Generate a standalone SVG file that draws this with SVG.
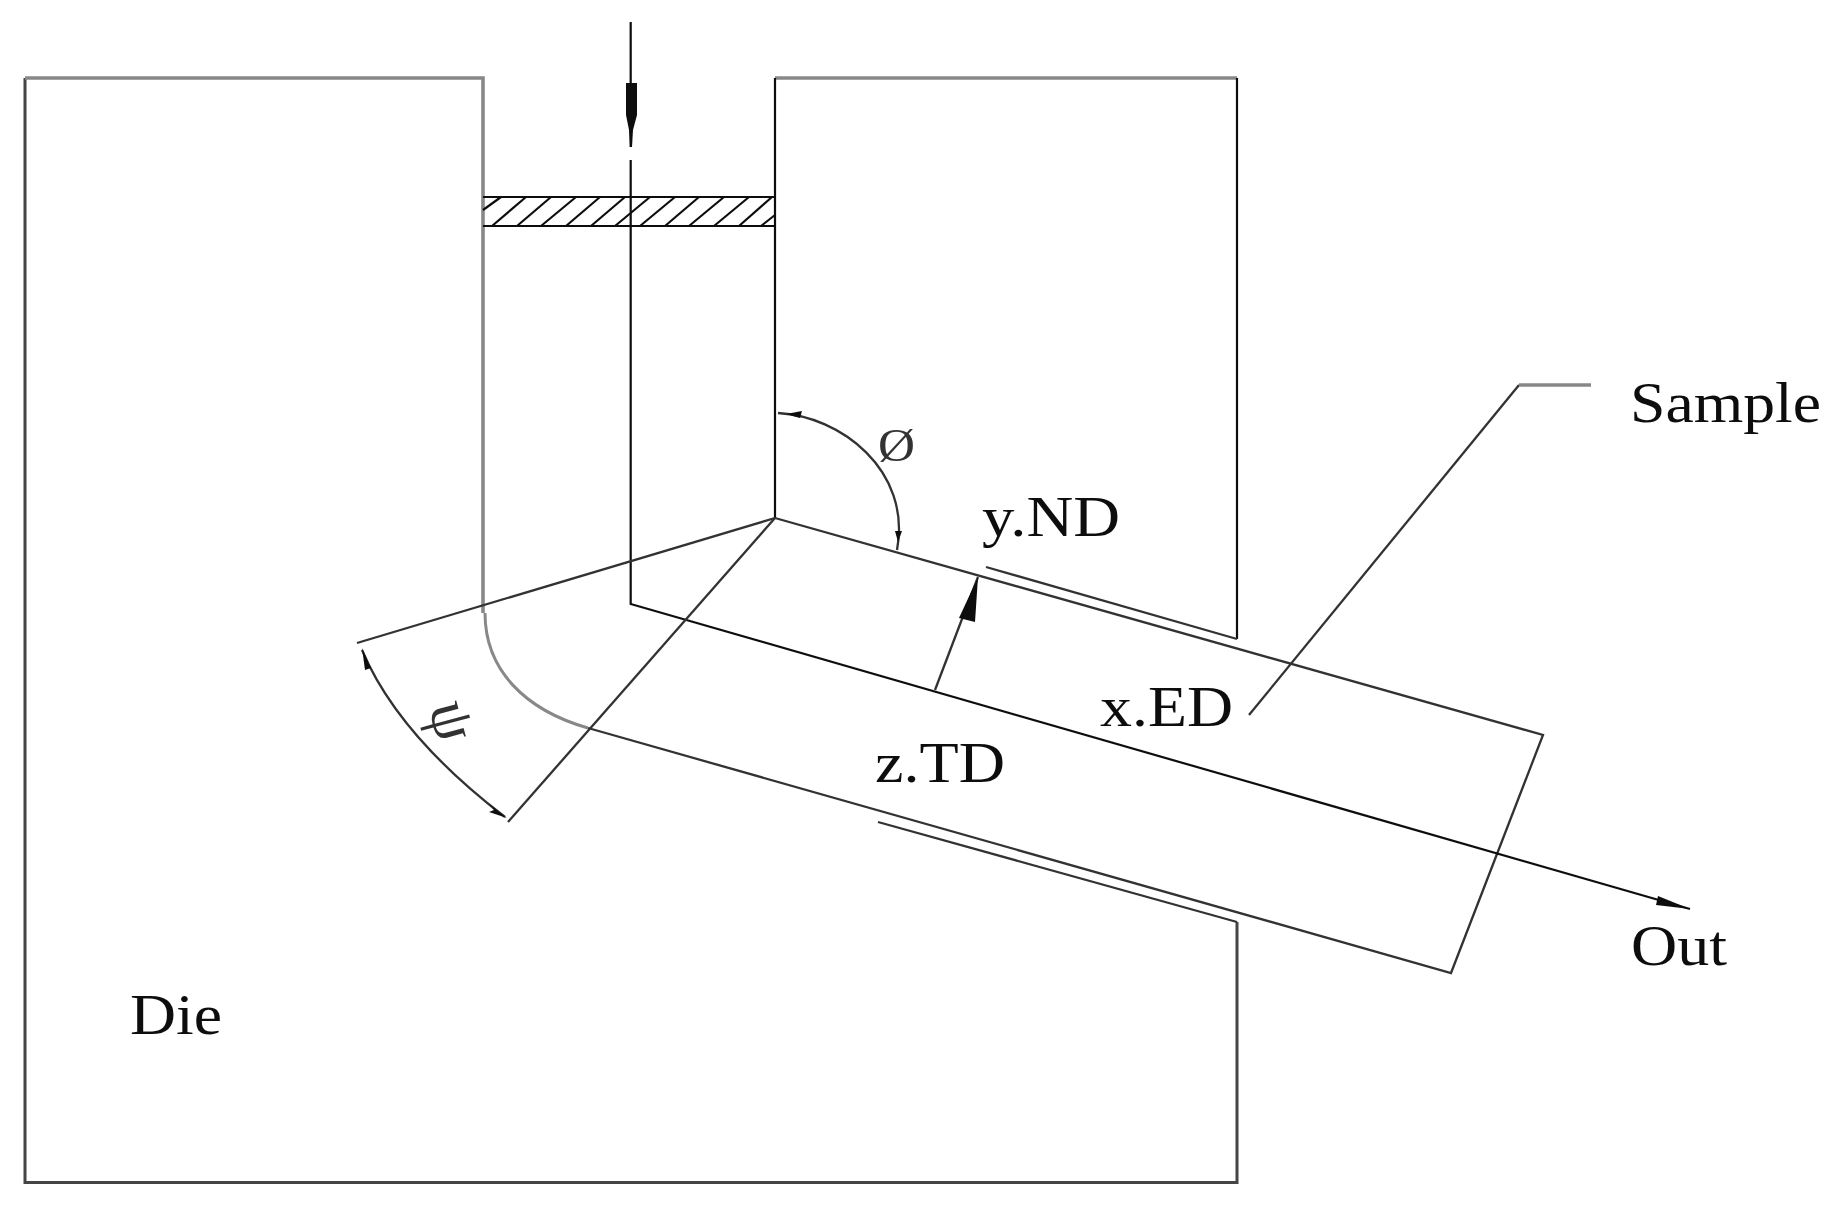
<svg xmlns="http://www.w3.org/2000/svg" width="1843" height="1217" viewBox="0 0 1843 1217">
<style>
.l{fill:none;stroke:#333;stroke-width:2.3}
.g{fill:none;stroke:#888;stroke-width:3.6}
.d{fill:none;stroke:#444;stroke-width:3}
.k{fill:none;stroke:#111;stroke-width:2.2}
.h{fill:none;stroke:#111;stroke-width:2.2}
.t{font-family:"Liberation Serif","Times New Roman",serif;font-size:56px;fill:#111}
.a{fill:#111}
</style>
<defs><filter id="b" x="-5%" y="-5%" width="110%" height="110%"><feGaussianBlur stdDeviation="0.45"/></filter></defs>
<rect width="1843" height="1217" fill="#fff"/>
<g filter="url(#b)">
<g id="die">
<path class="d" d="M25,78V1182.500H1237V922"/>
<path class="g" d="M25,78H483V613"/>
<path class="g" d="M775,78H1237"/>
<path class="k" d="M775,78V518"/>
<path class="k" d="M1237,78V639"/>
<path class="g" style="stroke-width:3" d="M485,613C485,670 525,710 588,728"/>
<path class="l" d="M878,822L1237,922"/>
<path class="l" d="M986,567L1237,639"/>
</g>
<g id="sample">
<path class="l" d="M775,518L1543,735L1451,973L588,728"/>
</g>
<g id="plunger">
<path class="k" d="M483,197H775M483,226H775"/>
<path class="h" d="M483,210L501,197M492,226L526,197M517,226L551,197M541,226L576,197M566,226L600,197M591,226L625,197M615,226L650,197M640,226L675,197M665,226L699,197M689,226L724,197M714,226L749,197M739,226L772,197M761,226L775,215"/>
</g>
<g id="connectors">
<path class="k" d="M630.700,22V147M630.700,160V604L1690,909"/>
<path class="a" d="M626,83H637V115L633,130L632,147H630L629,130L626,115Z"/>
<path class="a" d="M1690,909L1658,896L1656,905Z"/>
<path class="l" d="M935,690L978,577"/>
<path class="a" d="M978,577L959,618L975,622Z"/>
<path class="l" d="M775,518L357,643"/>
<path class="l" d="M775,518L508,822"/>
<path class="l" d="M778,413C840,416 912,470 897,550"/>
<path class="a" d="M786,414L802,411L800,418Z"/>
<path class="a" d="M898,542L895,531L902,531Z"/>
<path class="l" d="M362,650Q398,735 505,817"/>
<path class="a" d="M362,648L371,668L365,670Z"/>
<path class="a" d="M507,818L489,804L494,810L489,812Z"/>
<path class="l" d="M1249,715L1519,385"/>
<path class="g" d="M1519,385H1591"/>
</g>
<g id="labels">
<text class="t" x="1630" y="422" textLength="191" lengthAdjust="spacingAndGlyphs">Sample</text>
<text class="t" x="982" y="536" textLength="138" lengthAdjust="spacingAndGlyphs">y.ND</text>
<text class="t" x="1100" y="726" textLength="133" lengthAdjust="spacingAndGlyphs">x.ED</text>
<text class="t" x="875" y="782" textLength="130" lengthAdjust="spacingAndGlyphs">z.TD</text>
<text class="t" x="1631" y="965" textLength="96" lengthAdjust="spacingAndGlyphs">Out</text>
<text class="t" x="130" y="1034" textLength="92" lengthAdjust="spacingAndGlyphs">Die</text>
<text class="t" style="font-size:46px;fill:#333" x="878" y="461" textLength="37" lengthAdjust="spacingAndGlyphs">Ø</text>
<text class="t" style="font-size:62px;fill:#333" transform="translate(447,722) rotate(75)" text-anchor="middle" y="14">ψ</text>
</g>
</g>
</svg>
